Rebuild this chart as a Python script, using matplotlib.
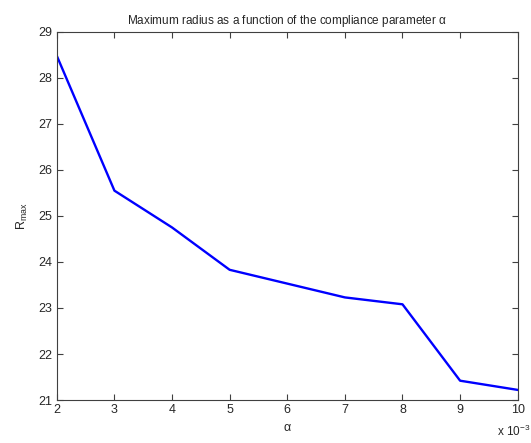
import numpy as np
import matplotlib.pyplot as plt
from matplotlib.ticker import FuncFormatter

# compliance parameter alpha and maximum radius
alpha = [0.002, 0.003, 0.004, 0.005, 0.006, 0.007, 0.008, 0.009, 0.010]
r_max = [28.48, 25.55, 24.75, 23.83, 23.53, 23.23, 23.08, 21.42, 21.22]
y_ticks = [21, 22, 23, 24, 25, 26, 27, 28, 29]

plt.rcParams['font.family'] = ['Liberation Sans', 'DejaVu Sans']
plt.rcParams['font.size'] = 9

fig = plt.figure(figsize=(5.31, 4.43), dpi=100)
ax = fig.add_axes([0.107, 0.097, 0.868, 0.831])

ax.plot(alpha, r_max, color='#0000ff', linewidth=1.7)

ax.set_xlim(0.002, 0.010)
ax.set_ylim(21, 29)
ax.set_xticks(alpha)
ax.set_yticks(y_ticks)
ax.xaxis.set_major_formatter(FuncFormatter(lambda v, p: '%g' % round(v * 1000, 6)))

for s in ax.spines.values():
    s.set_color('#404040')
    s.set_linewidth(0.8)
ax.tick_params(direction='in', top=True, right=True, colors='#404040',
               labelcolor='#262626', length=4, width=0.8, pad=3)

ax.set_title(r'Maximum radius as a function of the compliance parameter $\mathregular{\alpha}$',
             fontsize=8.5, color='#262626', pad=6)
ax.set_xlabel(r'$\mathregular{\alpha}$', fontsize=9, color='#262626', labelpad=4)
ax.set_ylabel(r'R$_{\mathregular{max}}$', fontsize=9, color='#262626', labelpad=6)
fig.text(0.998, 0.008, r'x 10$^{\mathregular{-3}}$', ha='right', va='bottom',
         fontsize=8.5, color='#262626')

fig.savefig('out.png', dpi=100)
